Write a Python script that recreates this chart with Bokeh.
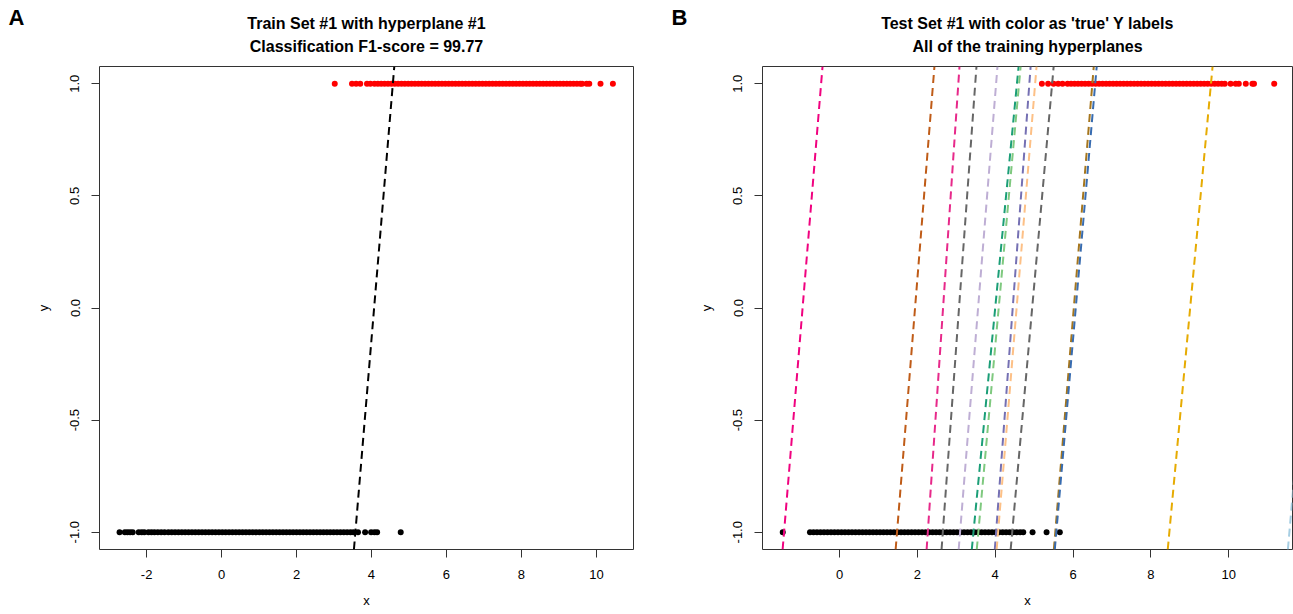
from bokeh.plotting import figure
from bokeh.models import Slope, Title, FixedTicker, Range1d
from bokeh.layouts import row
from bokeh.embed import file_html
from bokeh.resources import INLINE

FONT = "Liberation Sans"

# ---------------- data ----------------
x_ticks_a = [-2, 0, 2, 4, 6, 8, 10]
x_tick_labels_a = ["-2", "0", "2", "4", "6", "8", "10"]
x_ticks_b = [0, 2, 4, 6, 8, 10]
x_tick_labels_b = ["0", "2", "4", "6", "8", "10"]
y_ticks = [-1.0, -0.5, 0.0, 0.5, 1.0]
y_tick_labels = ["-1.0", "-0.5", "0.0", "0.5", "1.0"]

label_neg = -1
label_pos = 1

# Train set #1 (panel A)
train_neg_x = [-2.72, -2.58, -2.51, -2.44, -2.37, -2.21, -2.13, -2.06, -1.95, -1.87, -1.79,
               -1.70, -1.61, -1.52, -1.42, -1.33, -1.24, -1.15, -1.06, -0.97, -0.88, -0.79,
               -0.70, -0.61, -0.52, -0.43, -0.34, -0.25, -0.16, -0.07, 0.02, 0.11, 0.20,
               0.29, 0.38, 0.47, 0.56, 0.65, 0.74, 0.83, 0.92, 1.01, 1.10, 1.19, 1.28, 1.37,
               1.46, 1.55, 1.64, 1.73, 1.82, 1.91, 2.00, 2.09, 2.18, 2.27, 2.36, 2.45, 2.54,
               2.63, 2.72, 2.81, 2.90, 2.99, 3.08, 3.17, 3.26, 3.35, 3.44, 3.52,
               3.64, 3.83, 3.99, 4.08, 4.15, 4.78]
train_pos_x = [3.02, 3.48, 3.59, 3.70, 3.88, 3.97,
               4.08, 4.17, 4.26, 4.35, 4.44, 4.53, 4.62, 4.71, 4.80, 4.89, 4.98, 5.07, 5.16,
               5.25, 5.34, 5.43, 5.52, 5.61, 5.70, 5.79, 5.88, 5.97, 6.06, 6.15, 6.24, 6.33,
               6.42, 6.51, 6.60, 6.69, 6.78, 6.87, 6.96, 7.05, 7.14, 7.23, 7.32, 7.41, 7.50,
               7.59, 7.68, 7.77, 7.86, 7.95, 8.04, 8.13, 8.22, 8.31, 8.40, 8.49, 8.58, 8.67,
               8.76, 8.85, 8.94, 9.03, 9.12, 9.21, 9.30, 9.39, 9.48, 9.57, 9.62,
               9.74, 9.81, 10.11, 10.44]

# Test set #1 (panel B)
test_neg_x = [-1.46,
              -0.76, -0.67, -0.58, -0.49, -0.40, -0.31, -0.22, -0.13, -0.04, 0.05, 0.14,
              0.23, 0.32, 0.41, 0.50, 0.59, 0.68, 0.77, 0.86, 0.95, 1.04, 1.13, 1.22, 1.31,
              1.40, 1.49, 1.58, 1.67, 1.76, 1.85, 1.94, 2.03, 2.12, 2.21, 2.30, 2.39, 2.48,
              2.57, 2.66, 2.75, 2.84, 2.93, 3.02, 3.11, 3.20, 3.29, 3.38, 3.47, 3.56, 3.65,
              3.74, 3.83, 3.92, 4.01, 4.10, 4.19, 4.28, 4.37, 4.46, 4.55, 4.64, 4.72,
              4.96, 5.32, 5.66]
test_pos_x = [5.20, 5.36, 5.50, 5.62, 5.73,
              5.86, 5.95, 6.04, 6.13, 6.22, 6.31, 6.40, 6.49, 6.58, 6.67, 6.76, 6.85, 6.94,
              7.03, 7.12, 7.21, 7.30, 7.39, 7.48, 7.57, 7.66, 7.75, 7.84, 7.93, 8.02, 8.11,
              8.20, 8.29, 8.38, 8.47, 8.56, 8.65, 8.74, 8.83, 8.92, 9.01, 9.10, 9.19, 9.28,
              9.37, 9.46, 9.55, 9.64, 9.73, 9.82, 9.90,
              10.05, 10.18, 10.26, 10.44, 10.61, 10.65, 11.17]

# hyperplanes: x where y = 0, and slope dy/dx
train_hyper_x0 = [4.07]
train_hyper_slope = [2.00]

all_hyper_x0 = [-0.95, 1.94, 2.66, 3.07, 3.56, 4.00, 4.09, 4.45, 4.55, 4.95, 6.02, 6.07, 9.01, 12.06]
all_hyper_slope = [2.10, 2.16, 2.55, 2.40, 2.16, 1.79, 1.91, 2.34, 2.10, 1.95, 2.10, 2.00, 1.87, 2.00]

# ---------------- styles ----------------
hyper_colors = ["#F0027F", "#BF5B17", "#E7298A", "#666666", "#BEAED4", "#1B9E77", "#7FC97F",
                "#7570B3", "#FDC086", "#666666", "#A6761D", "#386CB0", "#E6AB02", "#A6CEE3"]

H = 614
FRAME_TOP = 66
FRAME_BOTTOM = 549
DASH = "8 5"


def style_axis(ax, ticks, labels, text, lab_standoff, standoff):
    ax.ticker = FixedTicker(ticks=ticks)
    ax.major_label_overrides = dict(zip(ticks, labels))
    ax.axis_line_color = None
    ax.major_tick_line_color = "#333333"
    ax.major_tick_out = 8
    ax.major_tick_in = 0
    ax.minor_tick_line_color = None
    ax.major_label_text_font = FONT
    ax.major_label_text_font_size = "13px"
    ax.major_label_text_color = "black"
    ax.major_label_standoff = lab_standoff
    ax.axis_label = text
    ax.axis_label_text_font = FONT
    ax.axis_label_text_font_size = "13px"
    ax.axis_label_text_font_style = "normal"
    ax.axis_label_text_color = "black"
    ax.axis_label_standoff = standoff


def title(text, standoff, align="center", size="16px", offset=0):
    return Title(text=text, align=align, offset=offset, text_font=FONT, text_font_size=size,
                 text_font_style="bold", text_color="black", standoff=standoff)


def panel(width, mbl, mbr, xr, xt, xtl, line1, line2, letter):
    p = figure(width=width, height=H, x_range=Range1d(*xr), y_range=Range1d(-1.077, 1.077),
               output_backend="svg", toolbar_location=None, title=None,
               min_border_left=mbl, min_border_right=mbr, min_border_top=FRAME_TOP,
               min_border_bottom=H - FRAME_BOTTOM)
    p.grid.visible = False
    p.outline_line_color = "#333333"
    p.outline_line_width = 1
    p.background_fill_color = "white"
    p.border_fill_color = "white"
    style_axis(p.xaxis[0], xt, xtl, "x", 12, 11)
    style_axis(p.yaxis[0], y_ticks, y_tick_labels, "y", 12, 17)
    p.yaxis[0].major_label_orientation = "vertical"
    p.add_layout(title(line2, 24), "above")
    p.add_layout(title(line1, -17), "above")
    p.add_layout(title(letter, -16, align="left", size="22px", offset=-91), "above")
    return p


pa = panel(660, 99, 27, (-3.256, 10.99), x_ticks_a, x_tick_labels_a,
           "Train Set #1 with hyperplane #1", "Classification F1-score = 99.77", "A")
for x0, m in zip(train_hyper_x0, train_hyper_slope):
    pa.add_layout(Slope(gradient=m, y_intercept=-m * x0, line_color="black",
                        line_width=2, line_dash=DASH))
pa.scatter(train_neg_x, [label_neg] * len(train_neg_x), size=6, color="black", line_color=None)
pa.scatter(train_pos_x, [label_pos] * len(train_pos_x), size=6, color="#FF0000", line_color=None)

pb = panel(633, 102, 1, (-1.98, 11.64), x_ticks_b, x_tick_labels_b,
           "Test Set #1 with color as 'true' Y labels", "All of the training hyperplanes", "B")
pb.scatter(test_neg_x, [label_neg] * len(test_neg_x), size=6, color="black", line_color=None)
pb.scatter(test_pos_x, [label_pos] * len(test_pos_x), size=6, color="#FF0000", line_color=None)
for x0, m, c in zip(all_hyper_x0, all_hyper_slope, hyper_colors):
    pb.add_layout(Slope(gradient=m, y_intercept=-m * x0, line_color=c,
                        line_width=2, line_dash=DASH))

layout = row(pa, pb)
open("out.html", "w").write(file_html(layout, INLINE))
